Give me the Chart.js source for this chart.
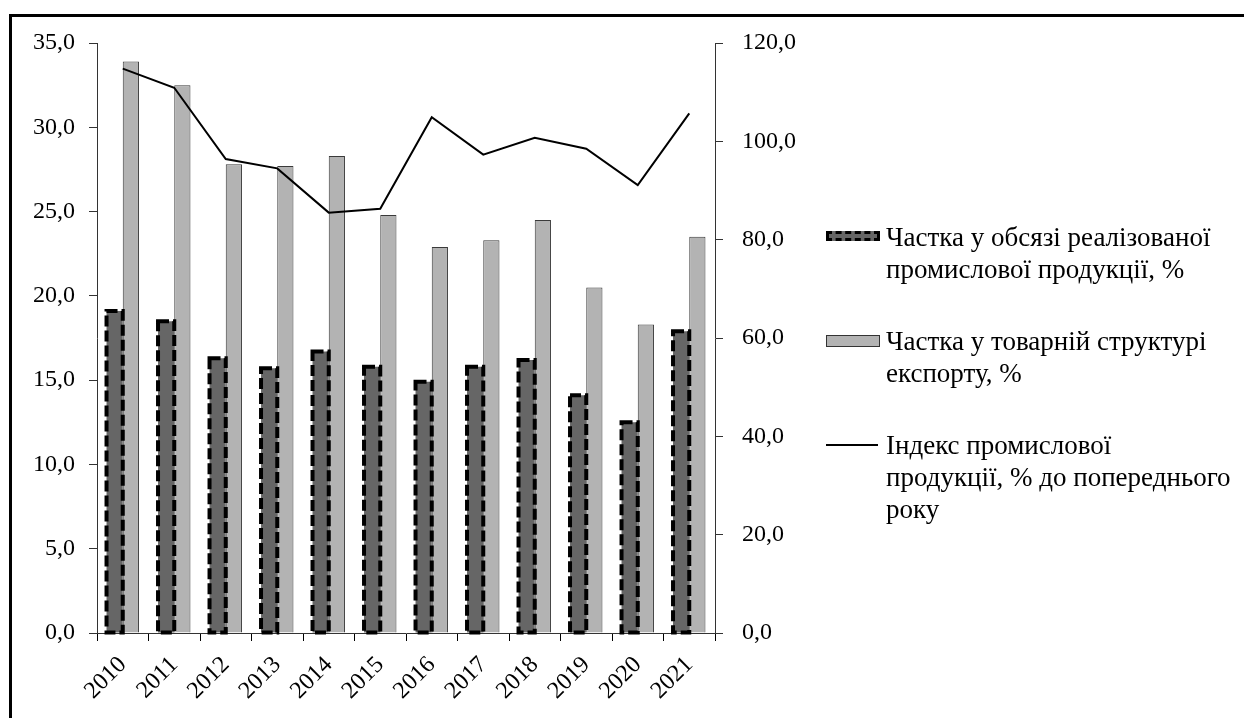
<!DOCTYPE html>
<html>
<head>
<meta charset="utf-8">
<script src="https://cdn.jsdelivr.net/npm/chart.js@4"></script>
<style>
  body { margin: 0; background: #fff; overflow: hidden; }
  #ramka { position: absolute; left: 9px; top: 14px; width: 1300px; height: 800px;
           border-left: 3px solid #000; border-top: 3px solid #000; }
  #wrap { position: absolute; left: 0; top: 0; width: 1244px; height: 718px; }
  .leg { position: absolute; left: 826px; font-family: "Liberation Serif", "Times New Roman", serif;
         font-size: 27px; line-height: 32px; color: #000; }
  .leg .sw { position: absolute; left: 0; }
  .leg .txt { position: absolute; left: 60px; top: 0; white-space: nowrap; }
</style>
</head>
<body>
<div id="ramka"></div>
<div id="wrap"><canvas id="grafico"></canvas></div>
<div id="legenda"></div>
<script>
// dados do gráfico
const anos = ['2010', '2011', '2012', '2013', '2014', '2015', '2016', '2017', '2018', '2019', '2020', '2021'];
const chastkaRealiz = [19.1, 18.5, 16.3, 15.7, 16.7, 15.8, 14.9, 15.8, 16.2, 14.1, 12.5, 17.9];
const chastkaEksport = [33.9, 32.5, 27.8, 27.7, 28.3, 24.8, 22.9, 23.3, 24.5, 20.5, 18.3, 23.5];
const indeksProm = [114.8, 110.9, 96.4, 94.5, 85.5, 86.3, 104.9, 97.3, 100.7, 98.5, 91.1, 105.7];

// nomes das séries (linhas da legenda)
const nomeRealiz = ['Частка у обсязі реалізованої', 'промислової продукції, %'];
const nomeEksport = ['Частка у товарній структурі', 'експорту, %'];
const nomeIndeks = ['Індекс промислової', 'продукції, % до попереднього', 'року'];

const fonte = '"Liberation Serif", "Times New Roman", serif';

function fmt(v) {
    return v.toFixed(1).replace('.', ',');
}

// contorno tracejado das barras escuras
const contornoTracejado = {
    id: 'contornoTracejado',
    afterDatasetDraw(chart, args) {
        if (args.index !== 0) return;
        const ctx = chart.ctx;
        ctx.save();
        ctx.strokeStyle = '#000';
        ctx.lineWidth = 4;
        ctx.setLineDash([11, 4]);
        args.meta.data.forEach(function (bar) {
            const p = bar.getProps(['x', 'y', 'base', 'width'], true);
            ctx.strokeRect(p.x - p.width / 2, p.y, p.width, p.base - p.y);
        });
        ctx.restore();
    }
};

const ctx = document.getElementById('grafico');
const grafico = new Chart(ctx, {
    type: 'bar',
    data: {
        labels: anos,
        datasets: [{
            label: nomeRealiz.join(' '),
            data: chastkaRealiz,
            backgroundColor: '#666666',
            borderWidth: 0,
            yAxisID: 'y',
            order: 1,
            categoryPercentage: 0.63,
            barPercentage: 1
        }, {
            label: nomeEksport.join(' '),
            data: chastkaEksport,
            backgroundColor: '#b3b3b3',
            borderColor: '#3a3a3a',
            borderWidth: 1,
            borderSkipped: 'bottom',
            yAxisID: 'y',
            order: 1,
            categoryPercentage: 0.63,
            barPercentage: 1
        }, {
            type: 'line',
            label: nomeIndeks.join(' '),
            data: indeksProm,
            borderColor: '#000',
            borderWidth: 2,
            pointRadius: 0,
            tension: 0,
            fill: false,
            yAxisID: 'y1',
            order: 0
        }]
    },
    options: {
        responsive: true,
        maintainAspectRatio: false,
        animation: false,
        devicePixelRatio: 1,
        layout: { padding: { left: 0, top: 43, right: 429, bottom: 0 } },
        plugins: {
            legend: { display: false },
            tooltip: { enabled: false }
        },
        scales: {
            x: {
                offset: true,
                grid: { offset: true, drawOnChartArea: false, tickLength: 8, color: '#000' },
                border: { color: '#333', width: 1 },
                ticks: {
                    color: '#000', font: { family: fonte, size: 24 },
                    maxRotation: 45, minRotation: 45, padding: 10
                },
                afterFit(scale) { scale.height = 85; }
            },
            y: {
                position: 'left',
                min: 0, max: 35,
                ticks: {
                    stepSize: 5, color: '#000', padding: 14,
                    font: { family: fonte, size: 24 },
                    callback: function (v) { return fmt(v); }
                },
                grid: { drawOnChartArea: false, tickLength: 8, color: '#333' },
                border: { color: '#333', width: 1 },
                afterFit(scale) { scale.width = 97; }
            },
            y1: {
                position: 'right',
                min: 0, max: 120,
                ticks: {
                    stepSize: 20, color: '#000', padding: 19,
                    font: { family: fonte, size: 24 },
                    callback: function (v) { return fmt(v); }
                },
                grid: { drawOnChartArea: false, tickLength: 8, color: '#333' },
                border: { color: '#333', width: 1 },
                afterFit(scale) { scale.width = 100; }
            }
        }
    },
    plugins: [contornoTracejado]
});

// legenda em HTML, à direita
function itemLegenda(topo, linhas, amostra) {
    const div = document.createElement('div');
    div.className = 'leg';
    div.style.top = topo + 'px';
    div.innerHTML = amostra + '<div class="txt">' + linhas.join('<br>') + '</div>';
    document.getElementById('legenda').appendChild(div);
}

itemLegenda(221, nomeRealiz,
    '<div class="sw" style="top:10px;width:48px;height:4px;background:#666;border:3px dashed #000;"></div>');
itemLegenda(325, nomeEksport,
    '<div class="sw" style="top:10px;width:52px;height:10px;background:#b3b3b3;border:1px solid #333;"></div>');
itemLegenda(429, nomeIndeks,
    '<div class="sw" style="top:15px;width:52px;height:2px;background:#000;"></div>');
</script>
</body>
</html>
